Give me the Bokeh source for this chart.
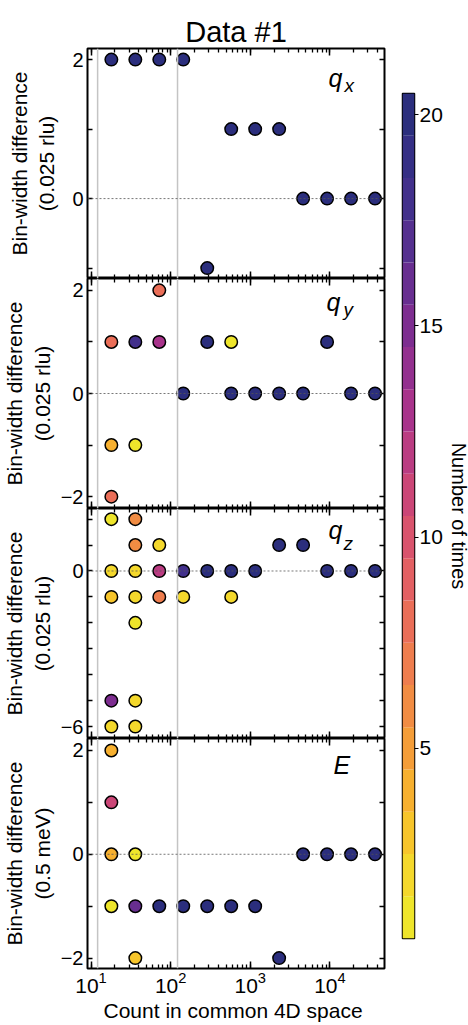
from bokeh.plotting import figure
from bokeh.models import Range1d, FixedTicker, LogAxis, LinearAxis, LogTicker, Label, Span, ColumnDataSource
from bokeh.layouts import column, row
from bokeh.transform import linear_cmap
from bokeh.embed import file_html
from bokeh.resources import INLINE

# ---------------- data ----------------
qx_count = [18, 36, 72, 144, 288, 576, 1152, 2304, 4608, 9216, 18432, 36864]
qx_diff = [2, 2, 2, 2, -1, 1, 1, 1, 0, 0, 0, 0]
qx_times = [20, 20, 20, 20, 20, 20, 20, 20, 20, 20, 20, 20]

qy_count = [18, 18, 18, 36, 36, 72, 72, 144, 288, 576, 576, 1152, 2304, 4608, 9216, 18432, 36864]
qy_diff = [1, -1, -2, 1, -1, 2, 1, 0, 1, 1, 0, 0, 0, 0, 1, 0, 0]
qy_times = [8, 4, 8, 18, 1, 8, 13, 20, 20, 1, 20, 20, 20, 20, 20, 20, 20]

qz_count = [18, 18, 18, 18, 18, 36, 36, 36, 36, 36, 36, 36, 72, 72, 72, 144, 144, 288, 576, 576,
            1152, 2304, 4608, 9216, 18432, 36864]
qz_diff = [2, 0, -1, -5, -6, 2, 1, 0, -1, -2, -5, -6, 1, 0, -1, 0, -1, 0, 0, -1, 0, 1, 1, 0, 0, 0]
qz_times = [1, 2, 3, 15, 2, 6, 6, 2, 2, 1, 2, 2, 2, 12, 7, 18, 2, 20, 20, 2, 20, 20, 20, 20, 20, 20]

e_count = [18, 18, 18, 18, 36, 36, 36, 72, 144, 288, 576, 1152, 2304, 4608, 9216, 18432, 36864]
e_diff = [2, 1, 0, -1, 0, -1, -2, -1, -1, -1, -1, -1, -2, 0, 0, 0, 0]
e_times = [4, 11, 4, 1, 1, 16, 3, 20, 20, 20, 20, 20, 20, 20, 20, 20, 20]

cbar_levels = [1, 2, 3, 4, 5, 6, 7, 8, 9, 10, 11, 12, 13, 14, 15, 16, 17, 18, 19, 20]
cbar_ticks = [5, 10, 15, 20]
guide_counts = [12.1, 122]

palette = ["#eee52b", "#f4d82c", "#f7c52b", "#f7b02f", "#f49d38", "#f18c43", "#ee7d4e",
           "#ea6e58", "#e36063", "#d9536d", "#cb4677", "#ba3c82", "#a8338b", "#93308f",
           "#7d2d90", "#682e90", "#55308f", "#42308b", "#352f85", "#2b2e7d"]

FONT = "Liberation Sans"
XR = (9.03, 48500)


def style_axis(ax, show_labels, tick_len_major, tick_len_minor):
    ax.axis_line_color = None
    ax.major_tick_in = tick_len_major
    ax.major_tick_out = 0
    ax.minor_tick_in = tick_len_minor
    ax.minor_tick_out = 0
    ax.major_tick_line_color = "black"
    ax.minor_tick_line_color = "black"
    ax.major_tick_line_width = 1.5
    ax.minor_tick_line_width = 1.3
    ax.major_label_text_font = FONT
    ax.major_label_text_color = "black"
    ax.axis_label_text_color = "black"
    if not show_labels:
        ax.major_label_text_font_size = "1px"
        ax.major_label_text_alpha = 0
        ax.major_label_standoff = 0


def panel(count, diff, times, yr, yticks, yminor, ylabel, tag, sub, tag_pos, sub_pos,
          top, bottom, ystand, last=False):
    p = figure(x_axis_type="log", x_range=Range1d(*XR), y_range=Range1d(*yr),
               frame_width=297, frame_height=230, min_border_left=86, min_border_right=17,
               min_border_top=top, min_border_bottom=bottom,
               x_axis_location=None, y_axis_location=None,
               toolbar_location=None, output_backend="svg")
    p.grid.grid_line_color = None
    p.outline_line_color = "black"
    p.outline_line_width = 2
    p.background_fill_color = "white"
    p.border_fill_color = "white"

    for loc in ("below", "above"):
        ax = LogAxis(ticker=LogTicker(num_minor_ticks=10))
        show = last and loc == "below"
        style_axis(ax, show, 7, 4)
        if show:
            ax.major_label_text_font_size = "21px"
            ax.major_label_standoff = 3
            ax.axis_label = "Count in common 4D  space"
            ax.axis_label_text_font = FONT
            ax.axis_label_text_font_size = "21px"
            ax.axis_label_text_font_style = "normal"
            ax.axis_label_standoff = 3
        p.add_layout(ax, loc)

    for loc in ("left", "right"):
        ax = LinearAxis(ticker=FixedTicker(ticks=yticks, minor_ticks=yminor))
        show = loc == "left"
        style_axis(ax, show, 5, 5)
        if show:
            ax.major_label_text_font_size = "20px"
            ax.major_label_standoff = 4
            ax.axis_label = ylabel
            ax.axis_label_text_font = FONT
            ax.axis_label_text_font_size = "21px"
            ax.axis_label_text_font_style = "normal"
            ax.axis_label_standoff = ystand
        p.add_layout(ax, loc)

    for g in guide_counts:
        p.add_layout(Span(location=g, dimension="height", line_color="#c4c4c4", line_width=1.5))
    p.add_layout(Span(location=0, dimension="width", line_color="#555555", line_width=0.8,
                      line_dash="2 2"))

    src = ColumnDataSource(dict(x=count, y=diff, t=times))
    p.scatter("x", "y", source=src, size=12.5, marker="circle",
              fill_color=linear_cmap("t", palette, 0.5, 20.5),
              line_color="black", line_width=1.5)

    p.add_layout(Label(x=tag_pos[0], y=tag_pos[1], x_units="screen", y_units="screen",
                       text=tag, text_font=FONT, text_font_size="25px",
                       text_font_style="italic", text_color="black"))
    if sub:
        p.add_layout(Label(x=sub_pos[0], y=sub_pos[1], x_units="screen", y_units="screen",
                           text=sub, text_font=FONT, text_font_size="19px",
                           text_font_style="italic", text_color="black"))
    return p


p1 = panel(qx_count, qx_diff, qx_times, (-1.15, 2.16), [0, 2], [-1, 1],
           "Bin-width difference\n(0.025 rlu)", "q", "x", (241, 187), (257, 183),
           48, 0, 11)
p1.title.text = "Data #1"
p1.title.align = "center"
p1.title.text_font = FONT
p1.title.text_font_size = "29px"
p1.title.text_font_style = "normal"
p1.title.text_color = "black"
p1.title.standoff = 2

p2 = panel(qy_count, qy_diff, qy_times, (-2.23, 2.23), [-2, 0, 2], [-1, 1],
           "Bin-width difference\n(0.025 rlu)", "q", "y", (239, 193), (256, 189),
           0, 0, 4)
p3 = panel(qz_count, qz_diff, qz_times, (-6.46, 2.41), [-6, 0], [-5, -4, -3, -2, -1, 1, 2],
           "Bin-width difference\n(0.025 rlu)", "q", "z", (241, 195), (256, 185),
           0, 0, 4)
p4 = panel(e_count, e_diff, e_times, (-2.2, 2.23), [-2, 0, 2], [-1, 1],
           "Bin-width difference\n(0.5 meV)", "E", None, (246, 190), None,
           0, 54, 4, last=True)

# colour bar
cb = figure(x_range=Range1d(0, 1), y_range=Range1d(0.5, 20.5), frame_width=12, frame_height=845,
            min_border_left=1, min_border_right=50, min_border_top=93, min_border_bottom=80,
            x_axis_location=None, y_axis_location=None, toolbar_location=None,
            output_backend="svg")
cb.grid.grid_line_color = None
cb.outline_line_color = "black"
cb.outline_line_width = 1.5
cb.rect(x=[0.5] * len(cbar_levels), y=cbar_levels, width=1, height=1,
        fill_color=palette, line_color=None)
cax = LinearAxis(ticker=FixedTicker(ticks=cbar_ticks, minor_ticks=[]))
cax.axis_line_color = None
cax.major_tick_in = 0
cax.major_tick_out = 4
cax.major_tick_line_color = "black"
cax.major_tick_line_width = 1
cax.major_label_text_font = FONT
cax.major_label_text_font_size = "21px"
cax.major_label_text_color = "black"
cax.major_label_standoff = 1
cax.axis_label = "Number of times"
cax.axis_label_text_font = FONT
cax.axis_label_text_font_size = "20px"
cax.axis_label_text_font_style = "normal"
cax.axis_label_text_color = "black"
cax.axis_label_standoff = 2
cb.add_layout(cax, "right")

layout = row(column(p1, p2, p3, p4), cb)
open("out.html", "w").write(file_html(layout, INLINE))
